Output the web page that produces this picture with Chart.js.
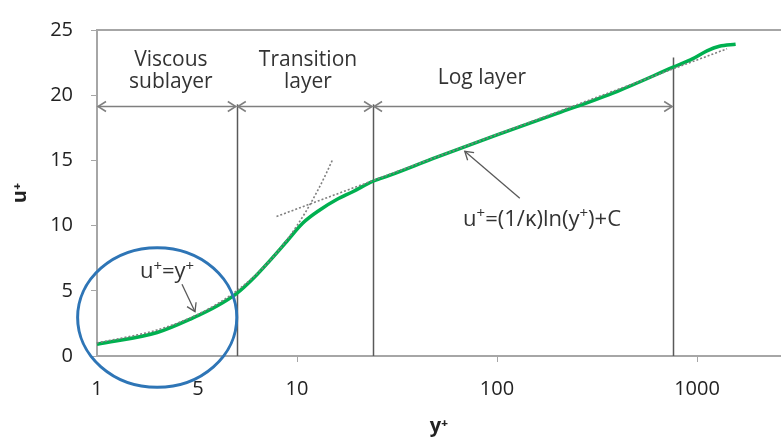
<!DOCTYPE html>
<html lang="en">
<head>
    <meta charset="UTF-8">
    <title>Law of the wall</title>
    <script src="https://cdn.jsdelivr.net/npm/chart.js@4.4.1/dist/chart.umd.min.js"></script>
    <style>
        * {
            margin: 0;
            padding: 0;
            box-sizing: border-box;
        }

        body {
            background: #fff;
            width: 781px;
            height: 442px;
            overflow: hidden;
        }

        #wallChart {
            display: block;
        }
    </style>
</head>
<body>
    <canvas id="wallChart" width="781" height="442"></canvas>

    <script>
        // velocity profile (y+ on a log axis)
        const yPlus = [1, 2, 3, 4, 5, 6, 7.3, 8.9, 10.7, 13, 15.8, 19, 24, 29, 50, 100, 200, 400, 760, 954, 1122, 1294, 1560];
        const uPlus = [0.9, 1.8, 2.9, 3.85, 4.8, 5.9, 7.3, 8.8, 10.2, 11.2, 12.0, 12.6, 13.4, 13.85, 15.25, 16.95, 18.6, 20.3, 22.15, 22.8, 23.4, 23.75, 23.9];

        // dotted reference lines
        const linearX = [1, 2, 3, 4, 5, 6, 7, 8, 9, 10, 11, 12, 13, 14, 15];
        const linearU = [1, 2, 3, 4, 5, 6, 7, 8, 9, 10, 11, 12, 13, 14, 15];
        const logLawX = [7.9, 1413];
        const logLawU = [10.7, 23.56];

        // axis ticks (the "5" label sits where the original figure put it)
        const xTickValues = [1, 3.2, 10, 100, 1000];
        const xTickLabels = ['1', '5', '10', '100', '1000'];
        const yTickValues = [0, 5, 10, 15, 20, 25];

        // layer borders and the arrow row
        const layerBounds = [1, 5, 24, 760];
        const layerLineTops = [19.3, 19.3, 22.9];
        const arrowLevel = 19.15;

        const textFont = '"Open Sans", "Noto Sans", "DejaVu Sans", sans-serif';
        const toPoints = (xs, ys) => xs.map((x, i) => ({ x: x, y: ys[i] }));

        function drawChevron(ctx, x, y, dx, dy) {
            // open arrow head pointing at (x, y), coming from direction (dx, dy)
            const len = Math.hypot(dx, dy);
            const ux = dx / len, uy = dy / len;
            const s = 8, w = 5;
            ctx.beginPath();
            ctx.moveTo(x + ux * s - uy * w, y + uy * s + ux * w);
            ctx.lineTo(x, y);
            ctx.lineTo(x + ux * s + uy * w, y + uy * s - ux * w);
            ctx.stroke();
        }

        // text with superscript pieces: parts = [[text, isSup], ...]
        function drawRich(ctx, parts, cx, cy, size) {
            const supSize = Math.round(size * 0.68);
            const fontFor = sup => (sup ? supSize : size) + 'px ' + textFont;
            let total = 0;
            parts.forEach(p => {
                ctx.font = fontFor(p[1]);
                total += ctx.measureText(p[0]).width;
            });
            let x = cx - total / 2;
            ctx.textAlign = 'left';
            ctx.textBaseline = 'alphabetic';
            const base = cy + size * 0.36;
            parts.forEach(p => {
                ctx.font = fontFor(p[1]);
                ctx.fillText(p[0], x, p[1] ? base - size * 0.33 : base);
                x += ctx.measureText(p[0]).width;
            });
        }

        const annotationPlugin = {
            id: 'wallAnnotations',
            beforeDatasetsDraw(chart) {
                const ctx = chart.ctx;
                const xs = chart.scales.x, ys = chart.scales.y;
                const area = chart.chartArea;
                ctx.save();

                // top frame line
                ctx.strokeStyle = '#a6a6a6';
                ctx.lineWidth = 2;
                ctx.beginPath();
                ctx.moveTo(area.left - 1, area.top);
                ctx.lineTo(area.right, area.top);
                ctx.stroke();

                // layer separators
                ctx.strokeStyle = '#595959';
                ctx.lineWidth = 1.5;
                for (let i = 1; i < layerBounds.length; i++) {
                    const px = Math.round(xs.getPixelForValue(layerBounds[i])) + 0.5;
                    ctx.beginPath();
                    ctx.moveTo(px, ys.getPixelForValue(layerLineTops[i - 1]));
                    ctx.lineTo(px, area.bottom);
                    ctx.stroke();
                }

                // double headed arrows
                ctx.strokeStyle = '#7f7f7f';
                ctx.lineWidth = 1.5;
                const ay = Math.round(ys.getPixelForValue(arrowLevel)) + 0.5;
                for (let i = 0; i < layerBounds.length - 1; i++) {
                    const x1 = xs.getPixelForValue(layerBounds[i]) + 1;
                    const x2 = xs.getPixelForValue(layerBounds[i + 1]) - 1;
                    ctx.beginPath();
                    ctx.moveTo(x1, ay);
                    ctx.lineTo(x2, ay);
                    ctx.stroke();
                    drawChevron(ctx, x1, ay, 1, 0);
                    drawChevron(ctx, x2, ay, -1, 0);
                }
                ctx.restore();
            },
            afterDatasetsDraw(chart) {
                const ctx = chart.ctx;
                const xs = chart.scales.x, ys = chart.scales.y;
                const X = v => xs.getPixelForValue(v);
                const Y = v => ys.getPixelForValue(v);
                ctx.save();

                // layer names
                ctx.fillStyle = '#333';
                ctx.font = '21px ' + textFont;
                ctx.textAlign = 'center';
                ctx.textBaseline = 'middle';
                ctx.fillText('Viscous', X(2.34), Y(22.7));
                ctx.fillText('sublayer', X(2.34), Y(21.0));
                ctx.fillText('Transition', X(11.35), Y(22.7));
                ctx.fillText('layer', X(11.35), Y(21.0));
                ctx.fillText('Log layer', X(84), Y(21.3));

                // equations
                drawRich(ctx, [['u', 0], ['+', 1], ['=y', 0], ['+', 1]], X(2.24), Y(6.6), 22);
                drawRich(ctx, [['u', 0], ['+', 1], ['=(1/\u03BA)ln(y', 0], ['+', 1], [')+C', 0]], X(168), Y(10.6), 22);

                // pointer arrows
                ctx.strokeStyle = '#595959';
                ctx.lineWidth = 1.3;
                const pointers = [
                    [2.66, 5.5, 3.09, 3.4],
                    [130, 12.1, 69, 15.7]
                ];
                pointers.forEach(p => {
                    const x1 = X(p[0]), y1 = Y(p[1]), x2 = X(p[2]), y2 = Y(p[3]);
                    ctx.beginPath();
                    ctx.moveTo(x1, y1);
                    ctx.lineTo(x2, y2);
                    ctx.stroke();
                    drawChevron(ctx, x2, y2, x1 - x2, y1 - y2);
                });

                // blue circle round the viscous sublayer
                const cx1 = X(0.8), cx2 = X(5.0), cy1 = Y(8.3), cy2 = Y(-2.4);
                ctx.strokeStyle = '#2e75b6';
                ctx.lineWidth = 3;
                ctx.beginPath();
                ctx.ellipse((cx1 + cx2) / 2, (cy1 + cy2) / 2, (cx2 - cx1) / 2, (cy2 - cy1) / 2, 0, 0, Math.PI * 2);
                ctx.stroke();
                ctx.restore();
            }
        };

        new Chart(document.getElementById('wallChart'), {
            type: 'line',
            data: {
                datasets: [
                    {
                        label: 'u+ = y+',
                        data: toPoints(linearX, linearU),
                        borderColor: '#7f7f7f',
                        borderWidth: 1.6,
                        borderDash: [2, 2],
                        pointRadius: 0,
                        cubicInterpolationMode: 'monotone',
                        clip: false
                    },
                    {
                        label: 'log law',
                        data: toPoints(logLawX, logLawU),
                        borderColor: '#7f7f7f',
                        borderWidth: 1.6,
                        borderDash: [2, 2],
                        pointRadius: 0,
                        clip: false
                    },
                    {
                        label: 'u+',
                        data: toPoints(yPlus, uPlus),
                        borderColor: '#00b050',
                        borderWidth: 3.5,
                        pointRadius: 0,
                        cubicInterpolationMode: 'monotone',
                        clip: false
                    }
                ]
            },
            options: {
                responsive: false,
                animation: false,
                devicePixelRatio: 1,
                layout: {
                    padding: { top: 20, right: 0, bottom: 0, left: 0 }
                },
                plugins: {
                    legend: { display: false },
                    tooltip: { enabled: false }
                },
                scales: {
                    x: {
                        type: 'logarithmic',
                        min: 1,
                        max: 2630,
                        afterBuildTicks: s => {
                            s.ticks = xTickValues.map(v => ({ value: v }));
                        },
                        afterFit: s => {
                            s.height = 86;
                        },
                        border: { display: true, color: '#a6a6a6', width: 2 },
                        grid: {
                            drawOnChartArea: false,
                            drawTicks: true,
                            tickLength: 6,
                            tickColor: c => (c.index === 0 || c.index === 1) ? 'rgba(0,0,0,0)' : '#a6a6a6'
                        },
                        ticks: {
                            autoSkip: false,
                            maxRotation: 0,
                            padding: 15,
                            color: '#222',
                            font: { family: textFont, size: 20 },
                            callback: (v, i) => xTickLabels[i]
                        },
                        title: {
                            display: true,
                            text: 'y\u207A',
                            color: '#222',
                            font: { family: textFont, size: 20, weight: 'bold' },
                            padding: { top: 0, bottom: 4 }
                        }
                    },
                    y: {
                        type: 'linear',
                        min: 0,
                        max: 25,
                        afterBuildTicks: s => {
                            s.ticks = yTickValues.map(v => ({ value: v }));
                        },
                        afterFit: s => {
                            s.width = 97;
                        },
                        border: { display: true, color: '#a6a6a6', width: 2 },
                        grid: {
                            drawOnChartArea: false,
                            drawTicks: true,
                            tickLength: 6,
                            tickColor: '#a6a6a6'
                        },
                        ticks: {
                            padding: 18,
                            color: '#222',
                            font: { family: textFont, size: 20 }
                        },
                        title: {
                            display: true,
                            text: 'u\u207A',
                            color: '#222',
                            font: { family: textFont, size: 20, weight: 'bold' },
                            padding: { top: 8, bottom: 0 }
                        }
                    }
                }
            },
            plugins: [annotationPlugin]
        });
    </script>
</body>
</html>
